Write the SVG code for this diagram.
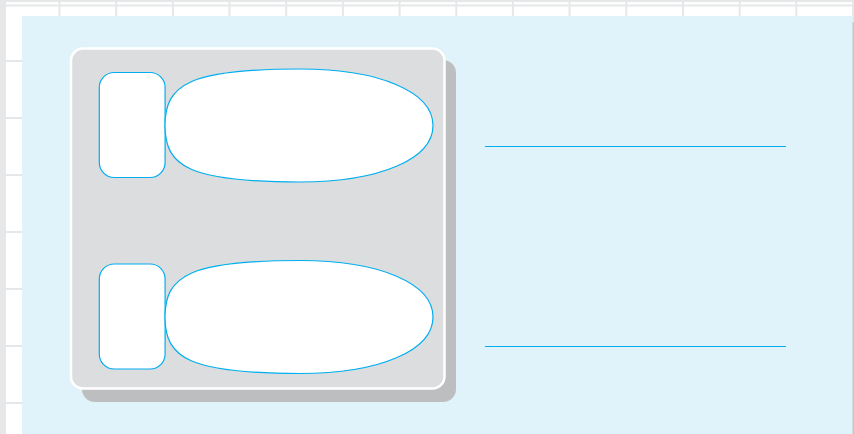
<svg xmlns="http://www.w3.org/2000/svg" width="854" height="434" viewBox="0 0 854 434">
  <defs>
    <style>
      .grid { stroke: #e6e7e8; stroke-width: 2; fill: none; }
      .node { fill: #ffffff; stroke: #00aeef; stroke-width: 1.2; }
      .rule { stroke: #00aeef; stroke-width: 1.2; fill: none; }
    </style>
    <path id="blob" d="M300,69 C380,69 433,92 433,125.5 C433,159 380,182 300,182 C190,182 165,167 165,125.5 C165,84 190,69 300,69 Z"/>
  </defs>
  <rect x="0" y="0" width="854" height="434" fill="#ffffff"/>
  <g id="grid" class="grid">
    <path d="M59.5,0V434M116.2,0V434M172.9,0V434M229.5,0V434M286.2,0V434M342.9,0V434M399.6,0V434M456.3,0V434M512.9,0V434M569.6,0V434M626.3,0V434M683,0V434M739.7,0V434M796.3,0V434M853,0V434"/>
    <path d="M0,5.5H854M0,61H854M0,118H854M0,175H854M0,232H854M0,289H854M0,346H854M0,403H854"/>
  </g>
  <rect x="0" y="0" width="6" height="434" fill="#e6e7e8"/>
  <rect x="0" y="0" width="854" height="2" fill="#e6e7e8"/>
  <rect id="background" x="22" y="16" width="831" height="418" fill="#e0f2fa"/>
  <rect x="852.5" y="22" width="1.5" height="412" fill="#c4c6c8"/>
  <g id="panel">
    <rect x="82" y="60" width="374" height="342" rx="13" fill="#bcbec0"/>
    <rect x="71" y="48.5" width="373.5" height="340" rx="12" fill="#dcdddf" stroke="#ffffff" stroke-width="2.5"/>
  </g>
  <g id="node-small-1"><rect class="node" x="99.3" y="72.5" width="65.8" height="105" rx="15"/></g>
  <g id="node-blob-1"><use href="#blob" class="node"/></g>
  <g id="node-small-2"><rect class="node" x="99.3" y="264" width="65.8" height="105" rx="15"/></g>
  <g id="node-blob-2"><use href="#blob" class="node" transform="translate(0,191.5)"/></g>
  <g id="connectors">
    <line class="rule" x1="485" y1="146.5" x2="786" y2="146.5"/>
    <line class="rule" x1="485" y1="346.5" x2="786" y2="346.5"/>
  </g>
</svg>
